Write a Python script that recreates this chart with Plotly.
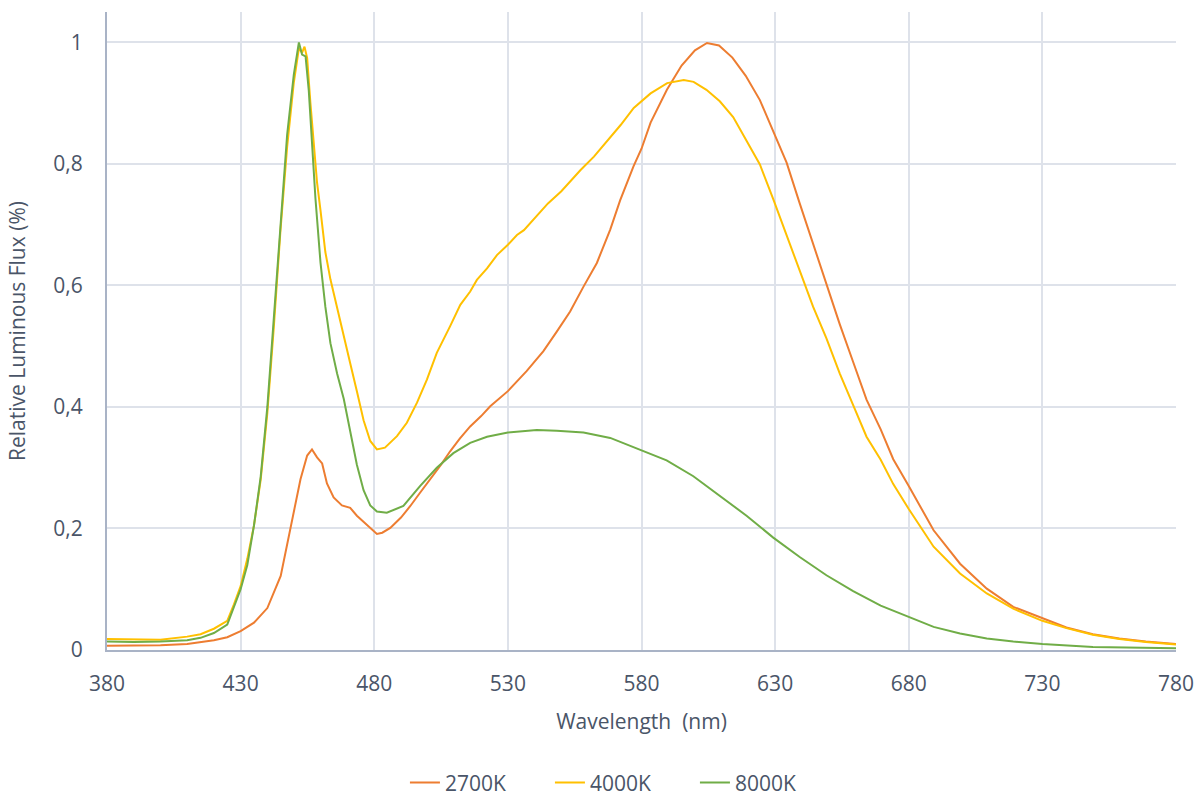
import plotly.graph_objects as go

# ---- data ----
wl_2700 = [380, 390, 400, 410, 420, 425, 430, 435, 440, 445, 448.7, 452.4, 454.9, 456.7, 458.6, 460.5,
           462.3, 464.8, 467.9, 471, 473.5, 477.3, 481, 483, 486, 490, 493.5, 497, 501, 505, 508.4, 512,
           515.9, 520, 523.4, 530, 537, 543.3, 548.3, 553.3, 558.3, 563.3, 568.3, 572, 577, 580, 583.4,
           589.5, 595, 600, 604.5, 609, 614, 619, 624.3, 629.3, 634.3, 639.2, 644.2, 649.2, 654.2, 659.2,
           664.2, 669.5, 674.2, 680, 689.3, 699.2, 709.2, 719.1, 730, 739, 748.9, 758.8, 768.7, 780]
val_2700 = [0.007, 0.007, 0.008, 0.010, 0.016, 0.021, 0.031, 0.045, 0.069, 0.122, 0.201, 0.281, 0.320, 0.330,
            0.317, 0.307, 0.274, 0.251, 0.238, 0.234, 0.221, 0.205, 0.191, 0.193, 0.201, 0.218, 0.237, 0.258,
            0.281, 0.305, 0.327, 0.348, 0.368, 0.385, 0.401, 0.426, 0.459, 0.492, 0.524, 0.557, 0.598, 0.637,
            0.692, 0.740, 0.796, 0.825, 0.868, 0.922, 0.962, 0.987, 0.999, 0.995, 0.975, 0.945, 0.905, 0.855,
            0.802, 0.735, 0.669, 0.600, 0.536, 0.474, 0.412, 0.363, 0.314, 0.270, 0.197, 0.142, 0.101, 0.071,
            0.052, 0.037, 0.026, 0.019, 0.014, 0.010]

wl_4000 = [380, 390, 400, 410, 415, 420, 425, 427.5, 430, 432.5, 435, 437.5, 440, 442.4, 444.9, 447.4, 449.9,
           451.8, 453, 453.9, 454.9, 456.1, 457.4, 458.6, 459.9, 461.7, 463.6, 466.1, 468.6, 471, 473.5, 476,
           478.5, 481, 484, 488.5, 492.2, 496, 499.7, 503.4, 508.4, 512.2, 515.9, 518.4, 522.2, 525.9, 530,
           533.4, 536, 540, 545, 550, 557.2, 562.2, 565.9, 572.2, 577.1, 583.4, 589.6, 595.8, 599.5, 604.3,
           609.3, 614.3, 619.3, 624.3, 629.3, 634.3, 639.2, 644.2, 649.2, 654.2, 659.2, 664.2, 669.5, 674.2,
           680, 689.3, 699.2, 709.2, 719.1, 730, 739, 748.9, 758.8, 768.7, 780]
val_4000 = [0.018, 0.017, 0.017, 0.022, 0.026, 0.035, 0.048, 0.075, 0.105, 0.150, 0.205, 0.280, 0.390, 0.530,
            0.690, 0.828, 0.934, 0.990, 0.983, 0.993, 0.974, 0.901, 0.835, 0.769, 0.723, 0.655, 0.610, 0.565,
            0.515, 0.472, 0.426, 0.378, 0.344, 0.330, 0.333, 0.352, 0.374, 0.407, 0.445, 0.489, 0.533, 0.568,
            0.590, 0.609, 0.628, 0.650, 0.667, 0.683, 0.691, 0.710, 0.735, 0.755, 0.790, 0.812, 0.831, 0.864,
            0.892, 0.916, 0.933, 0.938, 0.935, 0.922, 0.903, 0.877, 0.838, 0.799, 0.742, 0.682, 0.623, 0.565,
            0.513, 0.455, 0.403, 0.351, 0.313, 0.273, 0.232, 0.170, 0.126, 0.093, 0.068, 0.048, 0.036, 0.025,
            0.018, 0.013, 0.009]

wl_8000 = [380, 390, 400, 410, 415, 420, 425, 427.5, 430, 432.5, 435, 437.5, 440, 442.4, 444.9, 447.4, 449.9,
           451.8, 453, 454.3, 455.5, 456.7, 458, 459.9, 461.7, 463.6, 466.1, 468.6, 471, 473.5, 476, 478.5,
           481, 484.7, 490.9, 497.2, 503.4, 509.6, 515.9, 522.2, 530, 540.8, 548.3, 558.3, 568.3, 579.4,
           589.4, 599.4, 609.3, 619.3, 629.3, 639.2, 649.2, 659.2, 669.5, 680, 689.3, 699.2, 709.2, 719.1,
           730, 748.9, 780]
val_8000 = [0.014, 0.013, 0.014, 0.016, 0.020, 0.028, 0.042, 0.070, 0.100, 0.140, 0.205, 0.285, 0.400, 0.545,
            0.703, 0.848, 0.947, 1.000, 0.980, 0.977, 0.921, 0.835, 0.743, 0.637, 0.565, 0.505, 0.455, 0.413,
            0.358, 0.305, 0.263, 0.238, 0.228, 0.226, 0.237, 0.270, 0.300, 0.324, 0.341, 0.351, 0.358, 0.362,
            0.361, 0.358, 0.349, 0.330, 0.312, 0.286, 0.253, 0.221, 0.185, 0.153, 0.123, 0.097, 0.073, 0.054,
            0.038, 0.027, 0.019, 0.014, 0.010, 0.005, 0.003]

series_names = ["2700K", "4000K", "8000K"]
series_colors = ["#ED7D31", "#FFC000", "#70AD47"]

x_ticks = [380, 430, 480, 530, 580, 630, 680, 730, 780]

text_color = "#4A5568"
font_family = "Open Sans, Liberation Sans, sans-serif"

fig = go.Figure()
for name, color, xs, ys in zip(series_names, series_colors,
                               [wl_2700, wl_4000, wl_8000], [val_2700, val_4000, val_8000]):
    fig.add_trace(go.Scatter(x=xs, y=ys, mode="lines", name=name,
                             line=dict(color=color, width=2)))

fig.update_layout(
    width=1197, height=798,
    paper_bgcolor="white", plot_bgcolor="white",
    margin=dict(l=107, r=21, t=12, b=148, autoexpand=False),
    separators=",.",
    font=dict(family=font_family, color=text_color, size=21),
    showlegend=True,
    legend=dict(orientation="h", xref="container", yref="container", x=0.52, y=0.019,
                xanchor="center", yanchor="middle", font=dict(size=21, color=text_color),
                entrywidth=100, entrywidthmode="pixels"),
)
fig.update_xaxes(
    range=[380, 780], tickvals=x_ticks, ticktext=[str(v) for v in x_ticks],
    showgrid=True, gridcolor="#DEE2EA", gridwidth=2,
    showline=True, linecolor="#A9B3C6", linewidth=2,
    zeroline=False, ticks="", ticklabelstandoff=14, automargin=False,
    title=dict(text="Wavelength  (nm)", standoff=18, font=dict(size=21, color=text_color)),
    tickfont=dict(size=21, color=text_color),
)
fig.update_yaxes(
    range=[0, 1.05], tick0=0, dtick=0.2,
    showgrid=True, gridcolor="#DEE2EA", gridwidth=2,
    showline=True, linecolor="#A9B3C6", linewidth=2,
    zeroline=False, ticks="", ticklabelstandoff=18, automargin=False,
    title=dict(text="Relative Luminous Flux (%)", standoff=22, font=dict(size=21, color=text_color)),
    tickfont=dict(size=21, color=text_color),
)

# remove the browser's default 8px body margin so the figure fills the window exactly
fig.write_html("out.html", config={"displayModeBar": False},
               post_script="document.body.style.margin='0px';document.body.style.overflow='hidden';")
